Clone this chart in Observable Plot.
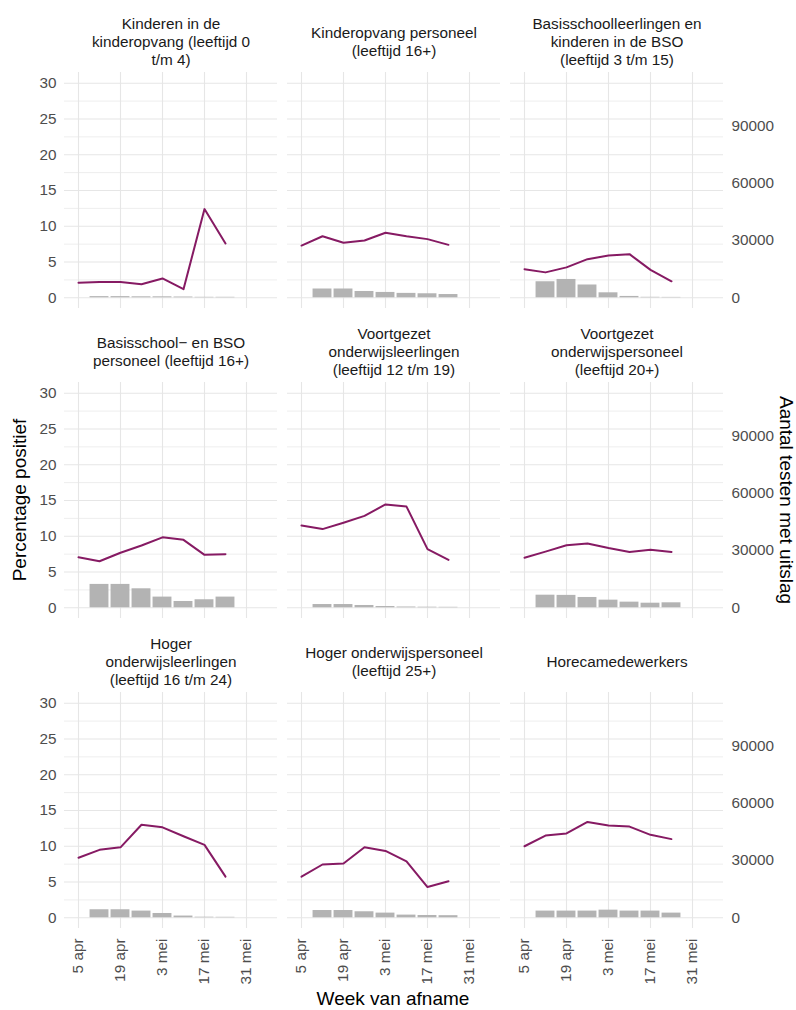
<!DOCTYPE html>
<html>
<head>
<meta charset="utf-8">
<script src="https://cdn.jsdelivr.net/npm/d3@7"></script>
<script src="https://cdn.jsdelivr.net/npm/@observablehq/plot@0.6"></script>
<style>
  html, body { margin: 0; padding: 0; background: #ffffff; }
  #wrap { position: relative; width: 796px; height: 1010px; font-family: "Liberation Sans", Arial, sans-serif; }
  .atitle { position: absolute; white-space: nowrap; font-size: 19px; color: #000000; transform-origin: center center; }
</style>
</head>
<body>
<div id="wrap">
  <div id="chart"></div>
  <div class="atitle" style="left:20px;top:500px;transform:translate(-50%,-50%) rotate(-90deg);">Percentage positief</div>
  <div class="atitle" style="left:786px;top:500px;transform:translate(-50%,-50%) rotate(90deg);">Aantal testen met uitslag</div>
  <div class="atitle" style="left:393px;top:999px;transform:translate(-50%,-50%);">Week van afname</div>
</div>
<script>
// ---- Data ----
const panelTitles = [
  "Kinderen in de\nkinderopvang (leeftijd 0\nt/m 4)",
  "Kinderopvang personeel\n(leeftijd 16+)",
  "Basisschoolleerlingen en\nkinderen in de BSO\n(leeftijd 3 t/m 15)",
  "Basisschool\u2212 en BSO\npersoneel (leeftijd 16+)",
  "Voortgezet\nonderwijsleerlingen\n(leeftijd 12 t/m 19)",
  "Voortgezet\nonderwijspersoneel\n(leeftijd 20+)",
  "Hoger\nonderwijsleerlingen\n(leeftijd 16 t/m 24)",
  "Hoger onderwijspersoneel\n(leeftijd 25+)",
  "Horecamedewerkers"
];

// weeks for the percentage line (8 weeks)
const lineWeeks = ["2021-04-05","2021-04-12","2021-04-19","2021-04-26","2021-05-03","2021-05-10","2021-05-17","2021-05-24"];
// weeks for the test-count bars (7 weeks)
const barWeeks = ["2021-04-12","2021-04-19","2021-04-26","2021-05-03","2021-05-10","2021-05-17","2021-05-24"];

// Percentage positief per panel
const pctKinderen          = [2.1, 2.2, 2.2, 1.9, 2.7, 1.2, 12.4, 7.6];
const pctKinderopvangPers  = [7.3, 8.6, 7.7, 8.0, 9.1, 8.6, 8.2, 7.4];
const pctBasisLeerlingen   = [4.0, 3.55, 4.25, 5.4, 5.9, 6.1, 3.9, 2.3];
const pctBasisPersoneel    = [7.05, 6.5, 7.7, 8.7, 9.85, 9.5, 7.4, 7.5];
const pctVOLeerlingen      = [11.5, 11.0, 11.9, 12.85, 14.45, 14.15, 8.2, 6.7];
const pctVOPersoneel       = [7.0, 7.85, 8.75, 9.0, 8.35, 7.8, 8.1, 7.8];
const pctHOLeerlingen      = [8.4, 9.5, 9.85, 13.0, 12.65, 11.4, 10.2, 5.75];
const pctHOPersoneel       = [5.75, 7.45, 7.6, 9.85, 9.35, 7.9, 4.3, 5.1];
const pctHoreca            = [10.0, 11.5, 11.8, 13.4, 12.9, 12.75, 11.6, 11.0];

// Aantal testen met uitslag per panel
const testsKinderen          = [600, 600, 500, 500, 400, 250, 250];
const testsKinderopvangPers  = [4600, 4600, 3300, 2800, 2300, 2100, 1700];
const testsBasisLeerlingen   = [8400, 9600, 6700, 2600, 700, 250, 200];
const testsBasisPersoneel    = [12250, 12250, 9950, 5600, 3300, 4200, 5600];
const testsVOLeerlingen      = [1700, 1700, 1200, 650, 400, 300, 250];
const testsVOPersoneel       = [6600, 6500, 5400, 4000, 2950, 2400, 2600];
const testsHOLeerlingen      = [4200, 4200, 3500, 2250, 900, 300, 250];
const testsHOPersoneel       = [3800, 3800, 3150, 2450, 1400, 1200, 1100];
const testsHoreca            = [3500, 3500, 3500, 4000, 3500, 3500, 2450];

const pctSeries = [pctKinderen, pctKinderopvangPers, pctBasisLeerlingen, pctBasisPersoneel,
  pctVOLeerlingen, pctVOPersoneel, pctHOLeerlingen, pctHOPersoneel, pctHoreca];
const testSeries = [testsKinderen, testsKinderopvangPers, testsBasisLeerlingen, testsBasisPersoneel,
  testsVOLeerlingen, testsVOPersoneel, testsHOLeerlingen, testsHOPersoneel, testsHoreca];

// Tick values / labels
const pctTicks = [0, 5, 10, 15, 20, 25, 30];
const pctMinorTicks = [2.5, 7.5, 12.5, 17.5, 22.5, 27.5];
const testTicks = [0, 30000, 60000, 90000];
const xTickDates = ["2021-04-05","2021-04-19","2021-05-03","2021-05-17","2021-05-31"];
const xTickLabels = ["5 apr", "19 apr", "3 mei", "17 mei", "31 mei"];

// secondary axis ratio: tests per percentage point
const testsPerPct = 3750;

// ---- Build tables ----
const day = 864e5;
const parse = s => new Date(s + "T00:00:00Z");
const panelInfo = panelTitles.map((t, i) => ({title: t, col: i % 3, row: Math.floor(i / 3)}));
const lineData = [];
const barData = [];
panelInfo.forEach((p, i) => {
  lineWeeks.forEach((w, j) => lineData.push({panel: i, col: p.col, row: p.row, date: parse(w), pct: pctSeries[i][j]}));
  barWeeks.forEach((w, j) => barData.push({panel: i, col: p.col, row: p.row, date: parse(w), tests: testSeries[i][j]}));
});
const xLabelMap = new Map(xTickDates.map((d, i) => [+parse(d), xTickLabels[i]]));
const halfBar = 0.45 * 7 * day;

const chart = Plot.plot({
  width: 796,
  height: 1010,
  marginLeft: 63,
  marginRight: 73,
  marginTop: 71,
  marginBottom: 82,
  style: {fontFamily: "'Liberation Sans', Arial, sans-serif", fontSize: "15.3px", background: "#ffffff"},
  fx: {axis: null, domain: [0, 1, 2], paddingInner: 10 / 223, paddingOuter: 0},
  fy: {axis: null, domain: [0, 1, 2], paddingInner: 0.24, paddingOuter: 0},
  x: {type: "utc", domain: [new Date(+parse("2021-04-05") - (14 / 3) * day), new Date(+parse("2021-05-31") + (31 / 3) * day)]},
  y: {domain: [-1.5, 31.5]},
  marks: [
    Plot.gridY({ticks: pctMinorTicks, stroke: "#eeeeee", strokeOpacity: 1, strokeWidth: 1}),
    Plot.gridY({ticks: pctTicks, stroke: "#e6e6e6", strokeOpacity: 1, strokeWidth: 1.1}),
    Plot.gridX({ticks: xTickDates.map(parse), stroke: "#e6e6e6", strokeOpacity: 1, strokeWidth: 1.1}),
    Plot.rect(barData, {
      fx: "col", fy: "row",
      x1: d => new Date(+d.date - halfBar),
      x2: d => new Date(+d.date + halfBar),
      y1: 0,
      y2: d => d.tests / testsPerPct,
      fill: "#b3b3b3"
    }),
    Plot.line(lineData, {fx: "col", fy: "row", x: "date", y: "pct", z: "panel", stroke: "#861a63", strokeWidth: 2}),
    Plot.text(panelInfo, {
      fx: "col", fy: "row", text: "title",
      frameAnchor: "top", dy: -31, lineAnchor: "middle", lineHeight: 1.18,
      fill: "#1a1a1a", fontSize: 15.3
    }),
    Plot.axisY({anchor: "left", ticks: pctTicks, tickSize: 0, tickPadding: 8, label: null, color: "#4d4d4d"}),
    Plot.axisY({anchor: "right", ticks: testTicks.map(t => t / testsPerPct), tickSize: 0, tickPadding: 8, label: null, color: "#4d4d4d",
      tickFormat: d => String(Math.round(d * testsPerPct))}),
    Plot.axisX({anchor: "bottom", ticks: xTickDates.map(parse), tickSize: 0, tickPadding: 10, tickRotate: -90, label: null, color: "#4d4d4d",
      tickFormat: d => xLabelMap.get(+d)})
  ]
});
document.getElementById("chart").appendChild(chart);
</script>
</body>
</html>
